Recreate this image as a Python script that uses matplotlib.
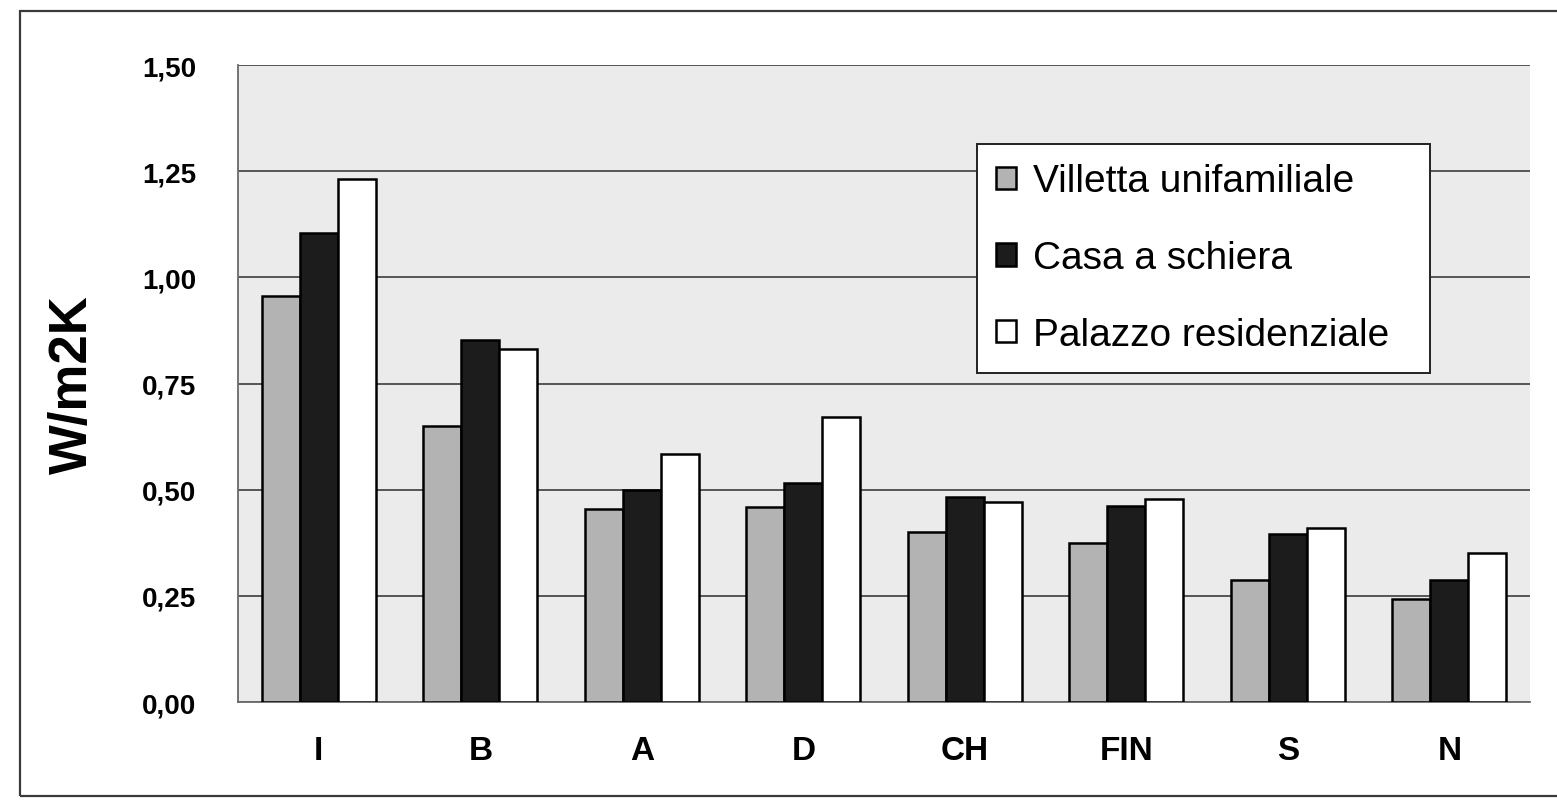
import matplotlib.pyplot as plt
from matplotlib.patches import Rectangle
import numpy as np

countries = ["I", "B", "A", "D", "CH", "FIN", "S", "N"]
series_names = ["Villetta unifamiliale", "Casa a schiera", "Palazzo residenziale"]
villetta = [0.955, 0.650, 0.454, 0.459, 0.400, 0.375, 0.288, 0.243]
schiera = [1.105, 0.853, 0.500, 0.515, 0.483, 0.462, 0.395, 0.288]
palazzo = [1.232, 0.832, 0.583, 0.670, 0.470, 0.477, 0.410, 0.352]
y_ticks = [0.0, 0.25, 0.5, 0.75, 1.0, 1.25, 1.5]

FILL_COLORS = ["#b3b3b3", "#1c1c1c", "#ffffff"]
BAR_WIDTH = 0.235


def main() -> None:
    plt.rcParams["font.family"] = ["Liberation Sans", "DejaVu Sans"]
    fig = plt.figure(figsize=(15.57, 8.03), dpi=100)
    fig.patch.set_facecolor("white")

    # frame around the whole chart, open on the right
    fig.patches.append(
        Rectangle(
            (0.0128, 0.0075), 1.2, 0.977,
            transform=fig.transFigure, fill=False,
            edgecolor="#3a3a3a", linewidth=1.6, zorder=0,
        )
    )

    ax = fig.add_axes([0.1529, 0.1245, 0.9827 - 0.1529, 0.9178 - 0.1245])
    ax.set_facecolor("#ebebeb")

    x = np.arange(len(countries))
    for i, (vals, color, name) in enumerate(
        zip([villetta, schiera, palazzo], FILL_COLORS, series_names)
    ):
        ax.bar(
            x + (i - 1) * BAR_WIDTH, vals, BAR_WIDTH,
            color=color, edgecolor="black", linewidth=1.8,
            label=name, zorder=3,
        )

    ax.set_xlim(-0.5, len(countries) - 0.5)
    ax.set_ylim(0, 1.5)
    ax.set_yticks(y_ticks)
    ax.set_yticklabels([f"{v:.2f}".replace(".", ",") for v in y_ticks])
    ax.set_xticks(x)
    ax.set_xticklabels(countries)
    ax.tick_params(axis="y", length=0, pad=30, labelsize=20)
    ax.tick_params(axis="x", length=0, pad=24, labelsize=24)
    for lbl in ax.get_xticklabels() + ax.get_yticklabels():
        lbl.set_fontweight("bold")

    ax.yaxis.grid(True, color="#4a4a4a", linewidth=1.3, zorder=1)
    ax.set_axisbelow(True)
    for side in ["top", "right"]:
        ax.spines[side].set_visible(False)
    for side in ["left", "bottom"]:
        ax.spines[side].set_color("#6a6a6a")
        ax.spines[side].set_linewidth(1.3)

    ax.set_ylabel("W/m2K", fontsize=38, fontweight="bold", labelpad=32)

    leg = ax.legend(
        loc="upper left",
        bbox_to_anchor=(977 / 1557, 1 - 370 / 803, 453 / 1557, 225 / 803),
        bbox_transform=fig.transFigure,
        mode="expand",
        fontsize=28,
        frameon=True,
        fancybox=False,
        framealpha=1,
        edgecolor="#222222",
        handlelength=0.5,
        handleheight=0.5,
        handletextpad=0.45,
        labelspacing=1.05,
        borderpad=0.5,
        borderaxespad=0,
    )
    leg.get_frame().set_linewidth(1.4)
    for h in leg.legend_handles:
        h.set_linewidth(1.8)

    fig.savefig("out.png", dpi=100)


if __name__ == "__main__":
    main()
